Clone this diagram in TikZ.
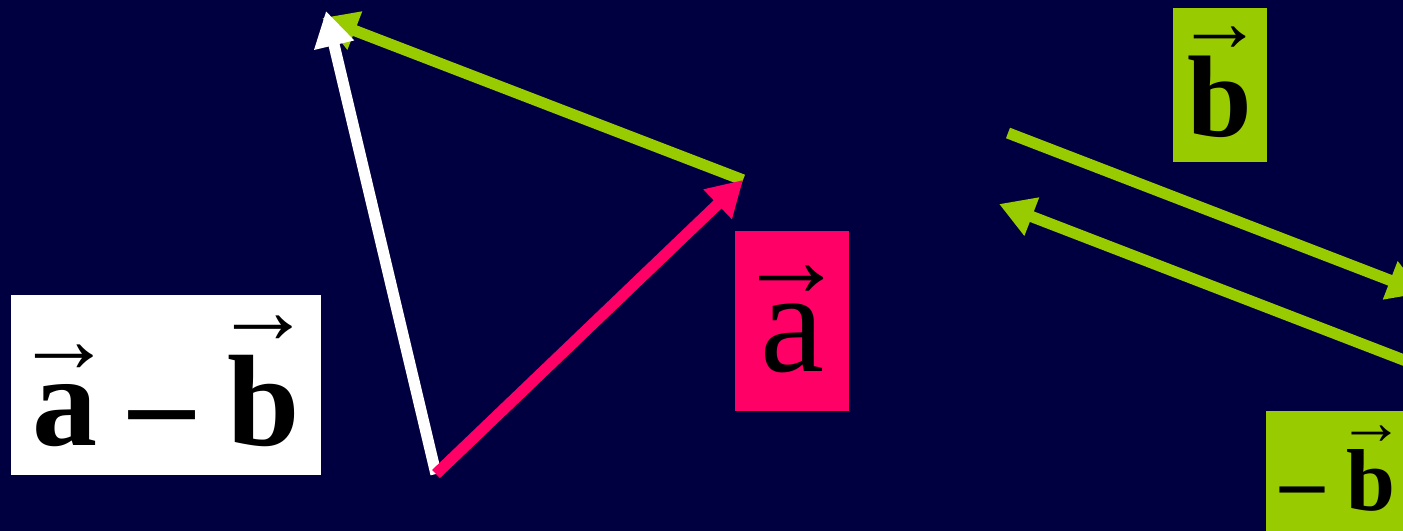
\documentclass[tikz,border=0pt]{standalone}
\usepackage{fontspec}
\setmainfont{Liberation Serif}
\usetikzlibrary{arrows.meta}

\definecolor{navy}{RGB}{0,0,64}
\definecolor{vecpink}{RGB}{255,0,102}
\definecolor{vecgreen}{RGB}{153,204,0}

% letter with a small arrow above it: #1 raise, #2 letter
\newcommand{\vecletter}[2]{{\setbox0=\hbox{#2}%
  \rlap{\hbox to \wd0{\hss\raisebox{#1}{\scalebox{0.75}{→}}\hss}}\box0}}

\begin{document}
\begin{tikzpicture}[
    x=0.01cm, y=-0.01cm,
    tagbox/.style={inner sep=0pt, align=center, text=black},
    vec/.style={line width=3.2pt, -{Triangle[length=10pt, width=11pt]}}
]
\useasboundingbox (0,0) rectangle (1403,531);
\clip (0,0) rectangle (1403,531);
\fill[navy] (0,0) rectangle (1403,531);

% labels
\node[tagbox, fill=white, minimum width=3.1cm, minimum height=1.8cm,
      text height=1.2cm, text depth=0cm,
      font=\fontsize{37}{44}\selectfont\bfseries] (diff) at (166,385)
      {\vecletter{0.56em}{a} – \vecletter{0.78em}{b}};
\node[tagbox, fill=vecpink, minimum width=1.13cm, minimum height=1.8cm,
      text height=1.0cm, text depth=0cm,
      font=\fontsize{41}{48}\selectfont] (alab) at (792,321)
      {\vecletter{0.52em}{a}};
\node[tagbox, fill=vecgreen, minimum width=0.94cm, minimum height=1.53cm,
      text height=1.03cm, text depth=0cm,
      font=\fontsize{33}{40}\selectfont\bfseries] (blab) at (1220,85)
      {\vecletter{0.73em}{b}};
\node[tagbox, fill=vecgreen, minimum width=1.44cm, minimum height=1.24cm,
      text height=0.74cm, text depth=0cm,
      font=\fontsize{25}{30}\selectfont\bfseries] (nblab) at (1338,473)
      {– \vecletter{0.74em}{b}};

% vector end points
\coordinate (o) at (436,474);
\coordinate (atip) at (743,180);
\coordinate (btip) at (322,18);
\coordinate (bstart) at (1008,133);
\coordinate (bend) at (1423,293);
\coordinate (nbstart) at (1414,364);
\coordinate (nbend) at (999,204);

\draw[vec, vecgreen] (atip) -- (btip);
\draw[vec, white] (o) -- (326,11);
\draw[vec, vecpink] (o) -- (atip);

\draw[vec, vecgreen] (bstart) -- (bend);
\draw[vec, vecgreen] (nbstart) -- (nbend);
\end{tikzpicture}
\end{document}
